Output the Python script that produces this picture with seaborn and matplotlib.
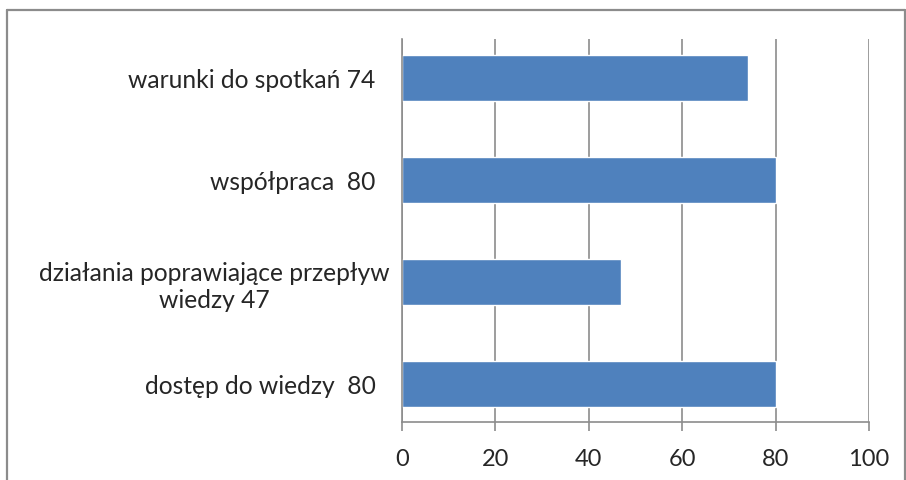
import pandas as pd
import matplotlib.pyplot as plt
import matplotlib.transforms as mtrans
import seaborn as sns
from matplotlib.lines import Line2D

categories = ["warunki do spotkań 74",
              "współpraca  80",
              "działania poprawiające przepływ\nwiedzy 47",
              "dostęp do wiedzy  80"]
values = [74, 80, 47, 80]

df = pd.DataFrame({"label": categories, "value": values})

sns.set_style("white")
plt.rcParams['font.family'] = ['Lato', 'DejaVu Sans']

fig = plt.figure(figsize=(9.06, 4.81), dpi=100)
ax = fig.add_axes([402 / 906, 1 - 423 / 481, 467 / 906, 383 / 481])

sns.barplot(data=df, x="value", y="label", orient="h", color="#4F81BD",
            saturation=1, width=0.45, ax=ax)

gray = "#8C8C8C"
ax.set_xlim(0, 100)
ax.set_ylim(3.373, -0.382)
ax.set_xticks([0, 20, 40, 60, 80, 100])
ax.xaxis.grid(True, color=gray, linewidth=1.2)
ax.set_axisbelow(True)
ax.set_xlabel("")
ax.set_ylabel("")
for s in ["top", "right"]:
    ax.spines[s].set_visible(False)
for s in ["left", "bottom"]:
    ax.spines[s].set_color(gray)
    ax.spines[s].set_linewidth(1.2)
ax.tick_params(axis="x", length=6.5, width=1.2, color=gray, labelsize=17, pad=12,
               bottom=True, direction="out")
ax.tick_params(axis="y", length=0, labelsize=17.7, pad=19)
for t in ax.get_yticklabels():
    t.set_multialignment("center")
    if "\n" in t.get_text():
        # wrapped label sits a bit closer to the axis
        t.set_transform(t.get_transform() + mtrans.ScaledTranslation(10 / 72, 0, fig.dpi_scale_trans))

# outer chart frame
fx0, fx1, fy = 7 / 906, 905 / 906, 1 - 10.5 / 481
fig.add_artist(Line2D([fx0, fx1], [fy, fy], color=gray, lw=1.6, transform=fig.transFigure))
fig.add_artist(Line2D([fx0, fx0], [0, fy], color=gray, lw=1.6, transform=fig.transFigure))
fig.add_artist(Line2D([fx1, fx1], [0, fy], color=gray, lw=1.6, transform=fig.transFigure))

fig.savefig("out.png", dpi=100)
